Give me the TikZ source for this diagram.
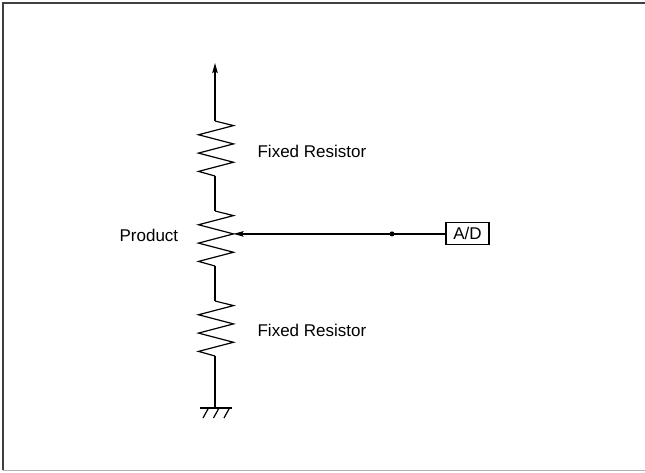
\documentclass[tikz,border=0pt]{standalone}
\usepackage{fontspec}
\setmainfont{Liberation Sans}
\usetikzlibrary{arrows.meta}
\begin{document}
\begin{tikzpicture}[x=1pt,y=-1pt,line width=1.2pt,
  lbl/.style={anchor=base west,inner sep=0pt,font=\fontsize{17}{20}\selectfont},
  adbox/.style={draw,line width=1.1pt,minimum width=43pt,minimum height=22pt,inner sep=0pt,font=\fontsize{17}{20}\selectfont},
  tip/.style={-{Stealth[length=10pt,width=5.5pt,inset=1.5pt]}},
  zigzag/.pic={\draw[line join=miter] (0,0) -- (18.5,4.6) -- (-16.5,13.75) -- (18.5,22.9) -- (-16.5,32.1) -- (18.5,41.25) -- (-16.5,50.4) -- (0,55);}]
\useasboundingbox (0,0) rectangle (645,472);
% frame
\draw[line width=1.3pt,black!75] (3,470) -- (3,3) -- (645,3);
\draw[line width=1.3pt,black!30] (3,470.5) -- (645,470.5);
% coordinates
\coordinate (top) at (215,63);
\coordinate (r1a) at (215,121);
\coordinate (r1b) at (215,176);
\coordinate (pa) at (215,211);
\coordinate (pb) at (215,266);
\coordinate (r2a) at (215,301);
\coordinate (r2b) at (215,356);
\coordinate (gnd) at (215,408);
\coordinate (wiper) at (233.5,233.9);
\coordinate (dot) at (392,233.9);
% resistors
\pic at (r1a) {zigzag};
\pic at (pa) {zigzag};
\pic at (r2a) {zigzag};
% wires
\draw[tip] (r1a) -- (top);
\draw (r1b) -- (pa);
\draw (pb) -- (r2a);
\draw (r2b) -- (gnd);
% ground
\coordinate (gl) at (200,408);
\coordinate (gr) at (232,408);
\draw (gl) -- (gr);
\draw (208.5,408) -- (203,418);
\draw (219,408) -- (213.5,418);
\draw (229.5,408) -- (224,418);
% A/D
\node[adbox] (ad) at (467.5,233.9) {A/D};
\draw[tip] (ad.west) -- (wiper);
\fill (dot) circle (2.5pt);
% labels
\node[lbl] (fr1) at (257,157) {Fixed Resistor};
\node[lbl] (prod) at (119,241) {Product};
\node[lbl] (fr2) at (257,336) {Fixed Resistor};
\end{tikzpicture}
\end{document}
